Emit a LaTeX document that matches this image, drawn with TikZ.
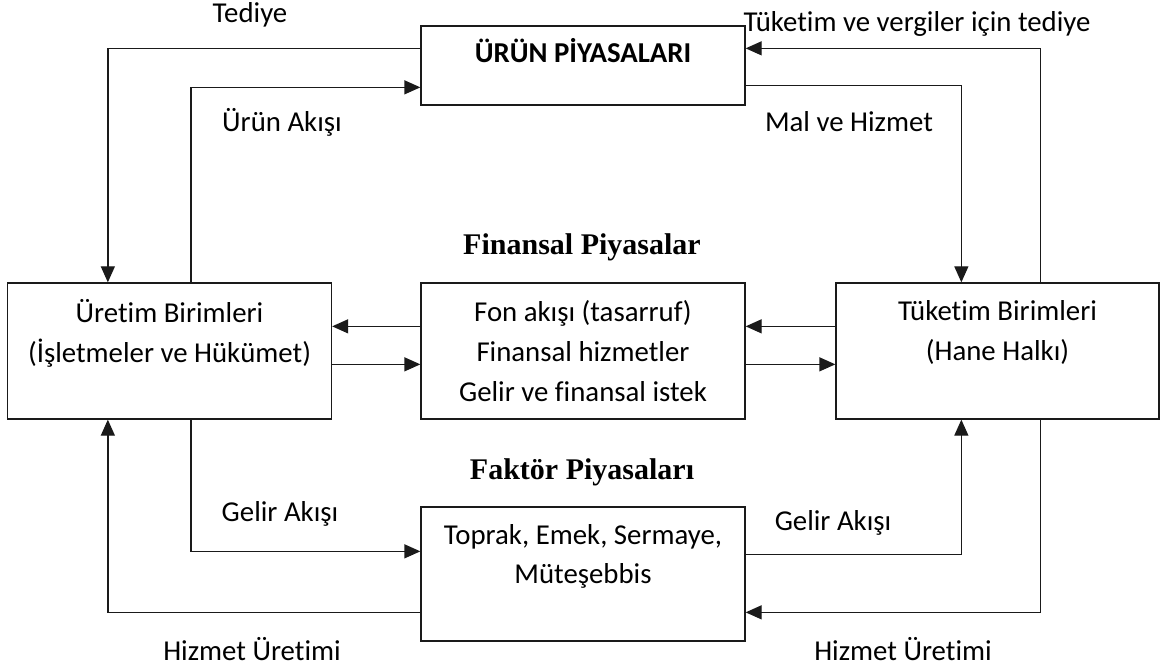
\documentclass[tikz,border=0pt]{standalone}
\usepackage{fontspec}
\setmainfont{Carlito}[Ligatures=NoCommon]
\newfontfamily\titleserif{Liberation Serif}
\usepackage{tikz}
\usetikzlibrary{arrows.meta}
\definecolor{inkc}{HTML}{1A1A1A}

\begin{document}
\begin{tikzpicture}[x=1pt, y=-1pt,
  box/.style={draw=inkc, line width=1.3pt, minimum width=324pt, minimum height=136pt,
    inner sep=0pt, align=center, font=\fontsize{28.8}{40}\selectfont},
  lab/.style={font=\fontsize{28.8}{32}\selectfont, inner sep=0pt},
  head/.style={font=\titleserif\bfseries\fontsize{30}{34}\selectfont, inner sep=0pt},
  flow/.style={draw=inkc, line width=1.3pt, -{Triangle[length=16pt,width=14pt]}}]
  \useasboundingbox (0,0) rectangle (1160,668);
  % boxes
  \node[box, minimum height=79pt, font=\bfseries\fontsize{28.8}{31}\selectfont] (urun) at (583,65.5) {ÜRÜN PİYASALARI\\ };
  \node[box] (uretim) at (169.5,351) {Üretim Birimleri\\(İşletmeler ve Hükümet)\\ };
  \node[box] (fon) at (583,351) {Fon akışı (tasarruf)\\Finansal hizmetler\\Gelir ve finansal istek};
  \node[box, minimum width=323pt] (tuketim) at (997.5,351) {Tüketim Birimleri\\(Hane Halkı)\\ };
  \node[box, minimum height=134pt] (faktor) at (583,574) {Toprak, Emek, Sermaye,\\Müteşebbis\\ };
  % headings
  \node[head] (finh) at (582,247) {Finansal Piyasalar};
  \node[head] (fakh) at (582,472) {Faktör Piyasaları};
  % upper loop
  \draw[flow] ([yshift=-23pt]urun.north west) -| ([xshift=101pt]uretim.north west);
  \draw[flow] ([xshift=184pt]uretim.north west) |- ([yshift=-62pt]urun.north west);
  \draw[flow] ([xshift=205pt]tuketim.north west) |- ([yshift=-23pt]urun.north east);
  \draw[flow] ([yshift=-60pt]urun.north east) -| ([xshift=126pt]tuketim.north west);
  % financial markets
  \draw[flow] ([yshift=-44pt]fon.north west) -- ([yshift=-44pt]uretim.north east);
  \draw[flow] ([yshift=-82pt]uretim.north east) -- ([yshift=-82pt]fon.north west);
  \draw[flow] ([yshift=-44pt]tuketim.north west) -- ([yshift=-44pt]fon.north east);
  \draw[flow] ([yshift=-82pt]fon.north east) -- ([yshift=-82pt]tuketim.north west);
  % lower loop
  \draw[flow] ([yshift=-106pt]faktor.north west) -| ([xshift=101pt]uretim.south west);
  \draw[flow] ([xshift=184pt]uretim.south west) |- ([yshift=-45pt]faktor.north west);
  \draw[flow] ([yshift=-48pt]faktor.north east) -| ([xshift=126pt]tuketim.south west);
  \draw[flow] ([xshift=205pt]tuketim.south west) |- ([yshift=-106pt]faktor.north east);
  % flow labels
  \node[lab] (tediye) at (250,15) {Tediye};
  \node[lab] (uakis) at (282,122) {Ürün Akışı};
  \node[lab] (vergi) at (917,24) {Tüketim ve vergiler için tediye};
  \node[lab] (malh) at (849,122) {Mal ve Hizmet};
  \node[lab] (gelirl) at (280,514) {Gelir Akışı};
  \node[lab] (gelirr) at (833,523) {Gelir Akışı};
  \node[lab] (hizl) at (252,649) {Hizmet Üretimi};
  \node[lab] (hizr) at (903,649) {Hizmet Üretimi};
\end{tikzpicture}
\end{document}
